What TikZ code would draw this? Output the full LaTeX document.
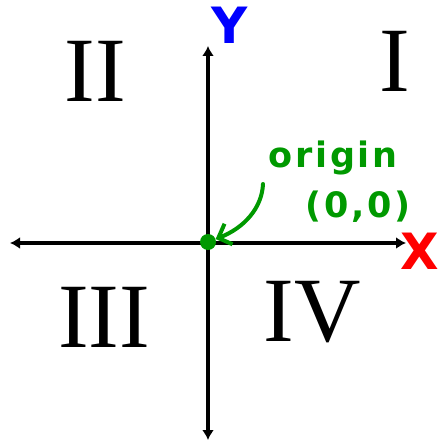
\documentclass[tikz,border=0pt]{standalone}
\usepackage{fontspec}
\setmainfont{Liberation Serif}
\setsansfont{DejaVu Sans}
\usetikzlibrary{positioning, arrows.meta, calc}
\definecolor{cejex}{RGB}{255,0,0}
\definecolor{cejey}{RGB}{0,0,255}
\definecolor{corigen}{RGB}{0,153,0}

\begin{document}
\begin{tikzpicture}[x=1pt, y=-1pt,
    axis/.style={line width=3.5pt, {Latex[length=10pt,width=12pt]}-{Latex[length=10pt,width=12pt]}},
    quad/.style={inner sep=0pt, font=\fontsize{92}{92}\selectfont},
    axislabel/.style={inner sep=0pt, font=\sffamily\bfseries\fontsize{50}{50}\selectfont},
    greenlabel/.style={inner sep=0pt, text=corigen, font=\sffamily\bfseries\fontsize{35}{35}\selectfont\addfontfeature{LetterSpace=8}},
    pointer/.style={draw=corigen, line width=4pt, line cap=round, -{Straight Barb[length=11pt,width=22pt,line width=4pt]}}]

  \useasboundingbox (0,0) rectangle (439,441);

  % --- axes ---
  \coordinate (xl) at (10,243);
  \coordinate (xr) at (406,243);
  \coordinate (yt) at (208,46);
  \coordinate (yb) at (208,440);
  \draw[axis] (xl) -- (xr);
  \draw[axis] (yt) -- (yb);
  \node[axislabel, text=cejey] (ylbl) at (230,25) {Y};
  \node[axislabel, text=cejex] (xlbl) at (420,251) {X};

  % --- quadrants ---
  \node[quad] (q1) at (395,61) {I};
  \node[quad] (q2) at (95,71) {II};
  \node[quad] (q3) at (104,317) {III};
  \node[quad] (q4) at (312,312) {IV};

  % --- origin ---
  \node[circle, fill=corigen, minimum size=16pt, inner sep=0pt] (o) at (208,242) {};
  \node[greenlabel] (lbl) at (333,158) {origin};
  \node[greenlabel] (lblxy) at (358,207) {(0,0)};
  \coordinate (tail) at (263,184);
  \draw[pointer] (tail) .. controls (262,208) and (244,228) .. (o);
\end{tikzpicture}
\end{document}
